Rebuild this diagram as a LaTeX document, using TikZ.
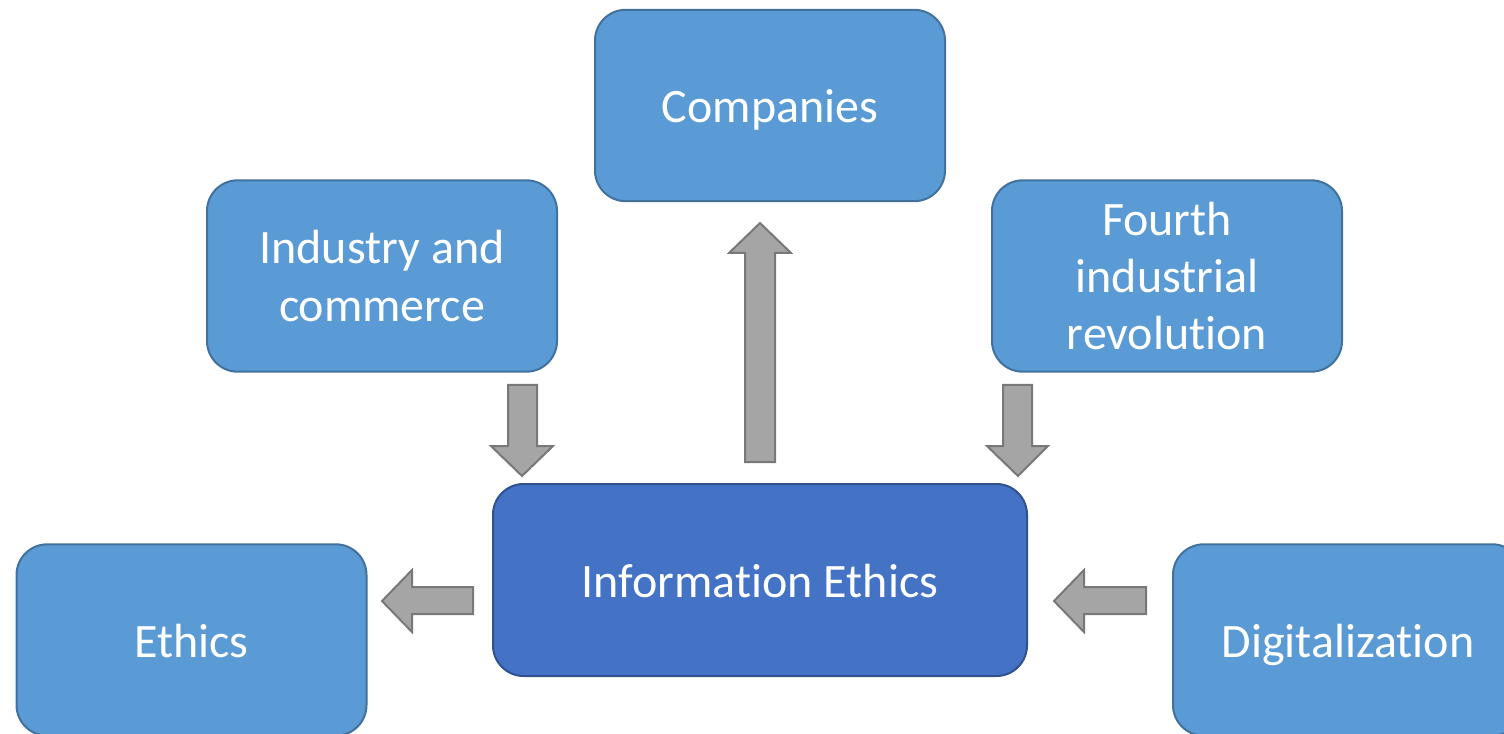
\documentclass[tikz,border=0pt]{standalone}
\usepackage{fontspec}
\setmainfont{Carlito}[Ligatures=NoCommon]
\definecolor{boxfill}{HTML}{5B9BD5}
\definecolor{boxline}{HTML}{41719C}
\definecolor{mainfill}{HTML}{4472C4}
\definecolor{mainline}{HTML}{2F528F}
\definecolor{arrfill}{HTML}{A5A5A5}
\definecolor{arrline}{HTML}{787878}
\tikzset{
  topic/.style={draw=boxline, fill=boxfill, line width=1.5pt, rounded corners=23pt,
    minimum width=262.5pt, minimum height=143.5pt, inner sep=0pt, align=center,
    text=white, font=\fontsize{36}{43}\selectfont},
  oneline/.style={text height=35pt, text depth=9pt},
  centre/.style={topic, draw=mainline, fill=mainfill, minimum width=400.5pt, minimum height=144pt},
  blockarrow/.style={draw=arrline, fill=arrfill, line width=1.5pt, line join=miter}
}
\begin{document}
\begin{tikzpicture}[x=0.75pt,y=-0.75pt]
\useasboundingbox (0,0) rectangle (1504,734);
\node[topic, oneline] (companies) at (770,105.5) {Companies};
\node[topic] (industry) at (382,276) {Industry and\\commerce};
\node[topic] (fourth) at (1167,276) {Fourth\\industrial\\revolution};
\node[centre, oneline] (infoethics) at (760,580) {Information Ethics};
\node[topic, oneline] (ethics) at (191.5,640) {Ethics};
\node[topic, oneline] (digital) at (1348,640) {Digitalization};
% block arrows
\draw[blockarrow] (508,385) -- (537,385) -- (537,446) -- (553,446) -- (522,476) -- (491,446) -- (508,446) -- cycle;
\draw[blockarrow] (1003,385) -- (1032,385) -- (1032,446) -- (1048,446) -- (1018,476) -- (987,446) -- (1003,446) -- cycle;
\draw[blockarrow] (745,462) -- (775,462) -- (775,253) -- (791,253) -- (760,223) -- (729,253) -- (745,253) -- cycle;
\draw[blockarrow] (473,587) -- (473,614) -- (412,614) -- (412,632) -- (382,601) -- (412,570) -- (412,587) -- cycle;
\draw[blockarrow] (1146,587) -- (1146,614) -- (1084,614) -- (1084,632) -- (1054,601) -- (1084,570) -- (1084,587) -- cycle;
\end{tikzpicture}
\end{document}
